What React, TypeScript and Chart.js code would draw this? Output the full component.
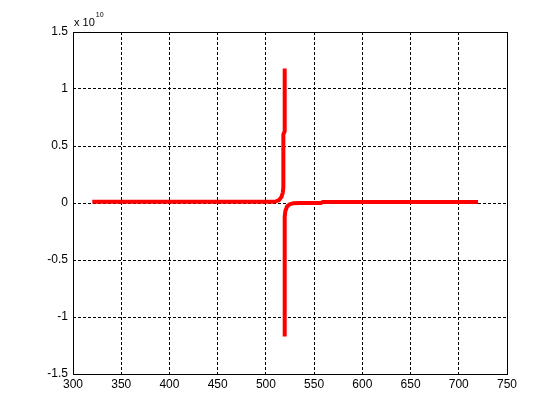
import React, { useEffect, useRef } from "react";
import { Chart, registerables } from "chart.js";

Chart.register(...registerables);

// Values in units of 1e10
const upperX = [320, 400, 450, 480, 495, 503, 506, 510, 513.5, 516, 517.5, 518.1, 518.1, 519.5, 519.5];
const upperY = [0.011, 0.011, 0.011, 0.011, 0.011, 0.011, 0.011, 0.013, 0.025, 0.05, 0.09, 0.14, 0.6, 0.63, 1.18];
const lowerX = [519.5, 519.5, 520.2, 522, 524.5, 528, 535, 557, 559, 640, 720];
const lowerY = [-1.17, -0.12, -0.07, -0.03, -0.012, -0.003, 0, 0, 0.009, 0.009, 0.009];

const xTicks = [300, 350, 400, 450, 500, 550, 600, 650, 700, 750];
const yTicks = [-1.5, -1, -0.5, 0, 0.5, 1, 1.5];
const exponentText = "10";

const FONT = "'Liberation Sans', Arial, sans-serif";

export default function App() {
  const ref = useRef<HTMLCanvasElement>(null);
  useEffect(() => {
    document.body.style.margin = "0";
    const canvas = ref.current!;
    const boxPlugin = {
      id: "box",
      afterDraw(chart: any) {
        const { ctx, chartArea } = chart;
        ctx.save();
        ctx.strokeStyle = "#000";
        ctx.lineWidth = 1;
        ctx.setLineDash([]);
        ctx.strokeRect(
          Math.round(chartArea.left) + 0.5,
          Math.round(chartArea.top) + 0.5,
          Math.round(chartArea.right - chartArea.left),
          Math.round(chartArea.bottom - chartArea.top)
        );
        ctx.fillStyle = "#000";
        ctx.textBaseline = "alphabetic";
        ctx.textAlign = "left";
        ctx.font = `11px ${FONT}`;
        ctx.fillText("x 10", chartArea.left + 1, chartArea.top - 6);
        const w = ctx.measureText("x 10").width;
        ctx.font = `7px ${FONT}`;
        ctx.fillText(exponentText, chartArea.left + 1 + w + 1, chartArea.top - 15);
        ctx.restore();
      },
    };
    const mk = (xs: number[], ys: number[]) => ({
      data: xs.map((x, i) => ({ x, y: ys[i] })),
      borderColor: "#ff0000",
      borderWidth: 4,
      pointRadius: 0,
      borderJoinStyle: "round" as const,
      borderCapStyle: "butt" as const,
      tension: 0,
    });
    const chart = new Chart(canvas, {
      type: "line",
      data: { datasets: [mk(upperX, upperY), mk(lowerX, lowerY)] },
      options: {
        responsive: false,
        animation: false,
        layout: { padding: { left: 0, right: 53, top: 32, bottom: 0 } },
        plugins: { legend: { display: false }, tooltip: { enabled: false } },
        scales: {
          x: {
            type: "linear",
            min: 300,
            max: 750,
            afterBuildTicks: (s: any) => {
              s.ticks = xTicks.map((v) => ({ value: v }));
            },
            afterFit: (s: any) => {
              s.height = 46;
            },
            grid: { color: "#000", lineWidth: 1, drawTicks: false },
            border: { display: false, dash: [3, 2] },
            ticks: {
              color: "#000",
              font: { family: FONT, size: 12 },
              padding: 3,
              maxRotation: 0,
              autoSkip: false,
              callback: (v: any) => String(v),
            },
          },
          y: {
            type: "linear",
            min: -1.5,
            max: 1.5,
            afterBuildTicks: (s: any) => {
              s.ticks = yTicks.map((v) => ({ value: v }));
            },
            afterFit: (s: any) => {
              s.width = 73;
            },
            grid: { color: "#000", lineWidth: 1, drawTicks: false },
            border: { display: false, dash: [3, 2] },
            ticks: {
              color: "#000",
              font: { family: FONT, size: 12 },
              padding: 5,
              autoSkip: false,
              callback: (v: any) => String(v),
            },
          },
        },
      },
      plugins: [boxPlugin],
    });
    return () => chart.destroy();
  }, []);
  return (
    <div style={{ width: 560, height: 420, background: "#fff" }}>
      <canvas ref={ref} width={560} height={420} />
    </div>
  );
}
